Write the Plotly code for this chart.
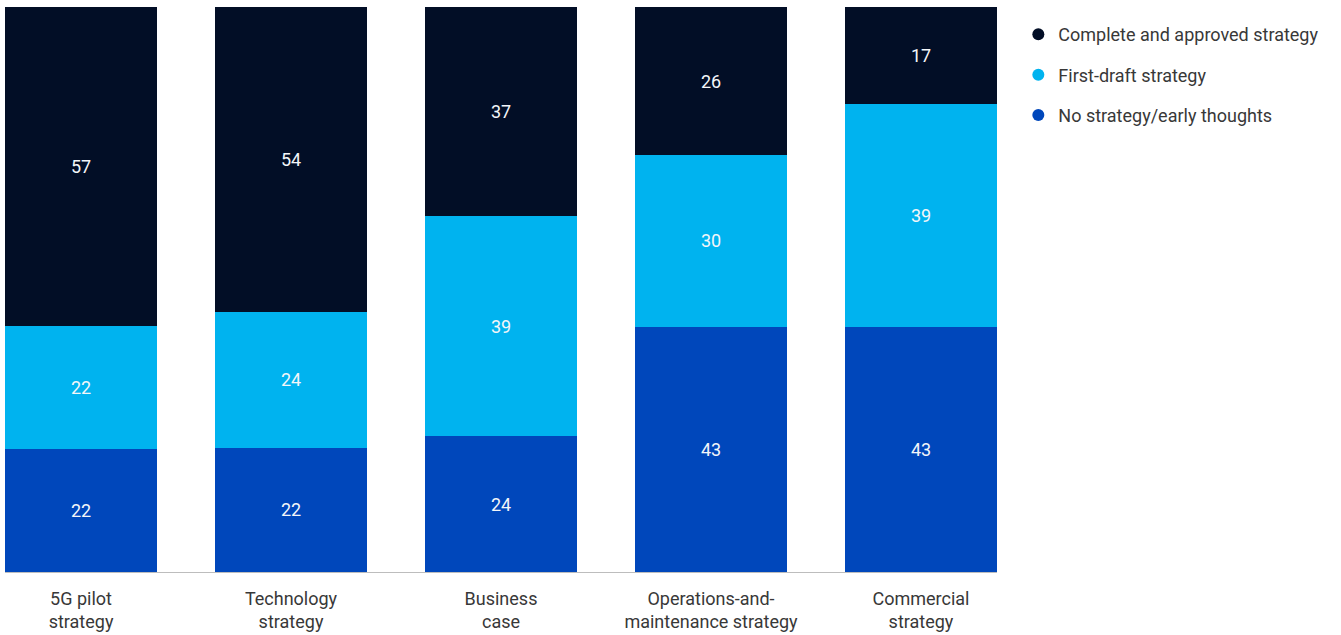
import plotly.graph_objects as go

categories = [
    "5G pilot<br>strategy",
    "Technology<br>strategy",
    "Business<br>case",
    "Operations-and-<br>maintenance strategy",
    "Commercial<br>strategy",
]
no_strategy = [22, 22, 24, 43, 43]
first_draft = [22, 24, 39, 30, 39]
complete = [57, 54, 37, 26, 17]

series = [
    ("No strategy/early thoughts", no_strategy, "#0047BB"),
    ("First-draft strategy", first_draft, "#00B3EF"),
    ("Complete and approved strategy", complete, "#020E26"),
]

FONT = "Roboto, Arial, sans-serif"
SIZE = 18
fig = go.Figure()

x_pos = list(range(len(categories)))
for name, vals, color in series:
    fig.add_trace(go.Bar(
        x=x_pos, y=vals, name=name,
        marker=dict(color=color, line=dict(width=0)),
        text=[str(v) for v in vals],
        textposition="inside", insidetextanchor="middle",
        textfont=dict(color="#F4F6F9", size=SIZE, family=FONT),
        showlegend=False,
    ))

# circle-marker legend entries, top to bottom
for i, (name, vals, color) in enumerate(reversed(series)):
    fig.add_trace(go.Scatter(
        x=[None], y=[None], mode="markers", name=name,
        marker=dict(symbol="circle", size=11, color=color),
        legendgroup=f"g{i}", showlegend=True,
    ))

fig.update_layout(
    width=1341, height=635,
    margin=dict(l=5, r=344, t=7, b=63),
    barmode="stack", barnorm="percent", bargap=0.276,
    plot_bgcolor="white", paper_bgcolor="white",
    font=dict(family=FONT, size=SIZE, color="#383838"),
    uniformtext=dict(mode="show", minsize=SIZE),
    legend=dict(
        x=1.0215, y=0.984, xanchor="left", yanchor="top",
        traceorder="grouped", tracegroupgap=14,
        font=dict(size=SIZE, color="#383838", family=FONT),
        itemsizing="constant",
    ),
    xaxis=dict(
        range=[-0.362, 4.362],
        tickmode="array", tickvals=x_pos, ticktext=categories,
        showline=True, linecolor="#BDBDBD", linewidth=1,
        showgrid=False, zeroline=False, ticks="",
        ticklabelstandoff=10, automargin=False,
        tickfont=dict(size=SIZE, color="#383838", family=FONT),
        fixedrange=True,
    ),
    yaxis=dict(range=[0, 100], visible=False, showgrid=False, zeroline=False),
)

fig.write_html("out.html")
